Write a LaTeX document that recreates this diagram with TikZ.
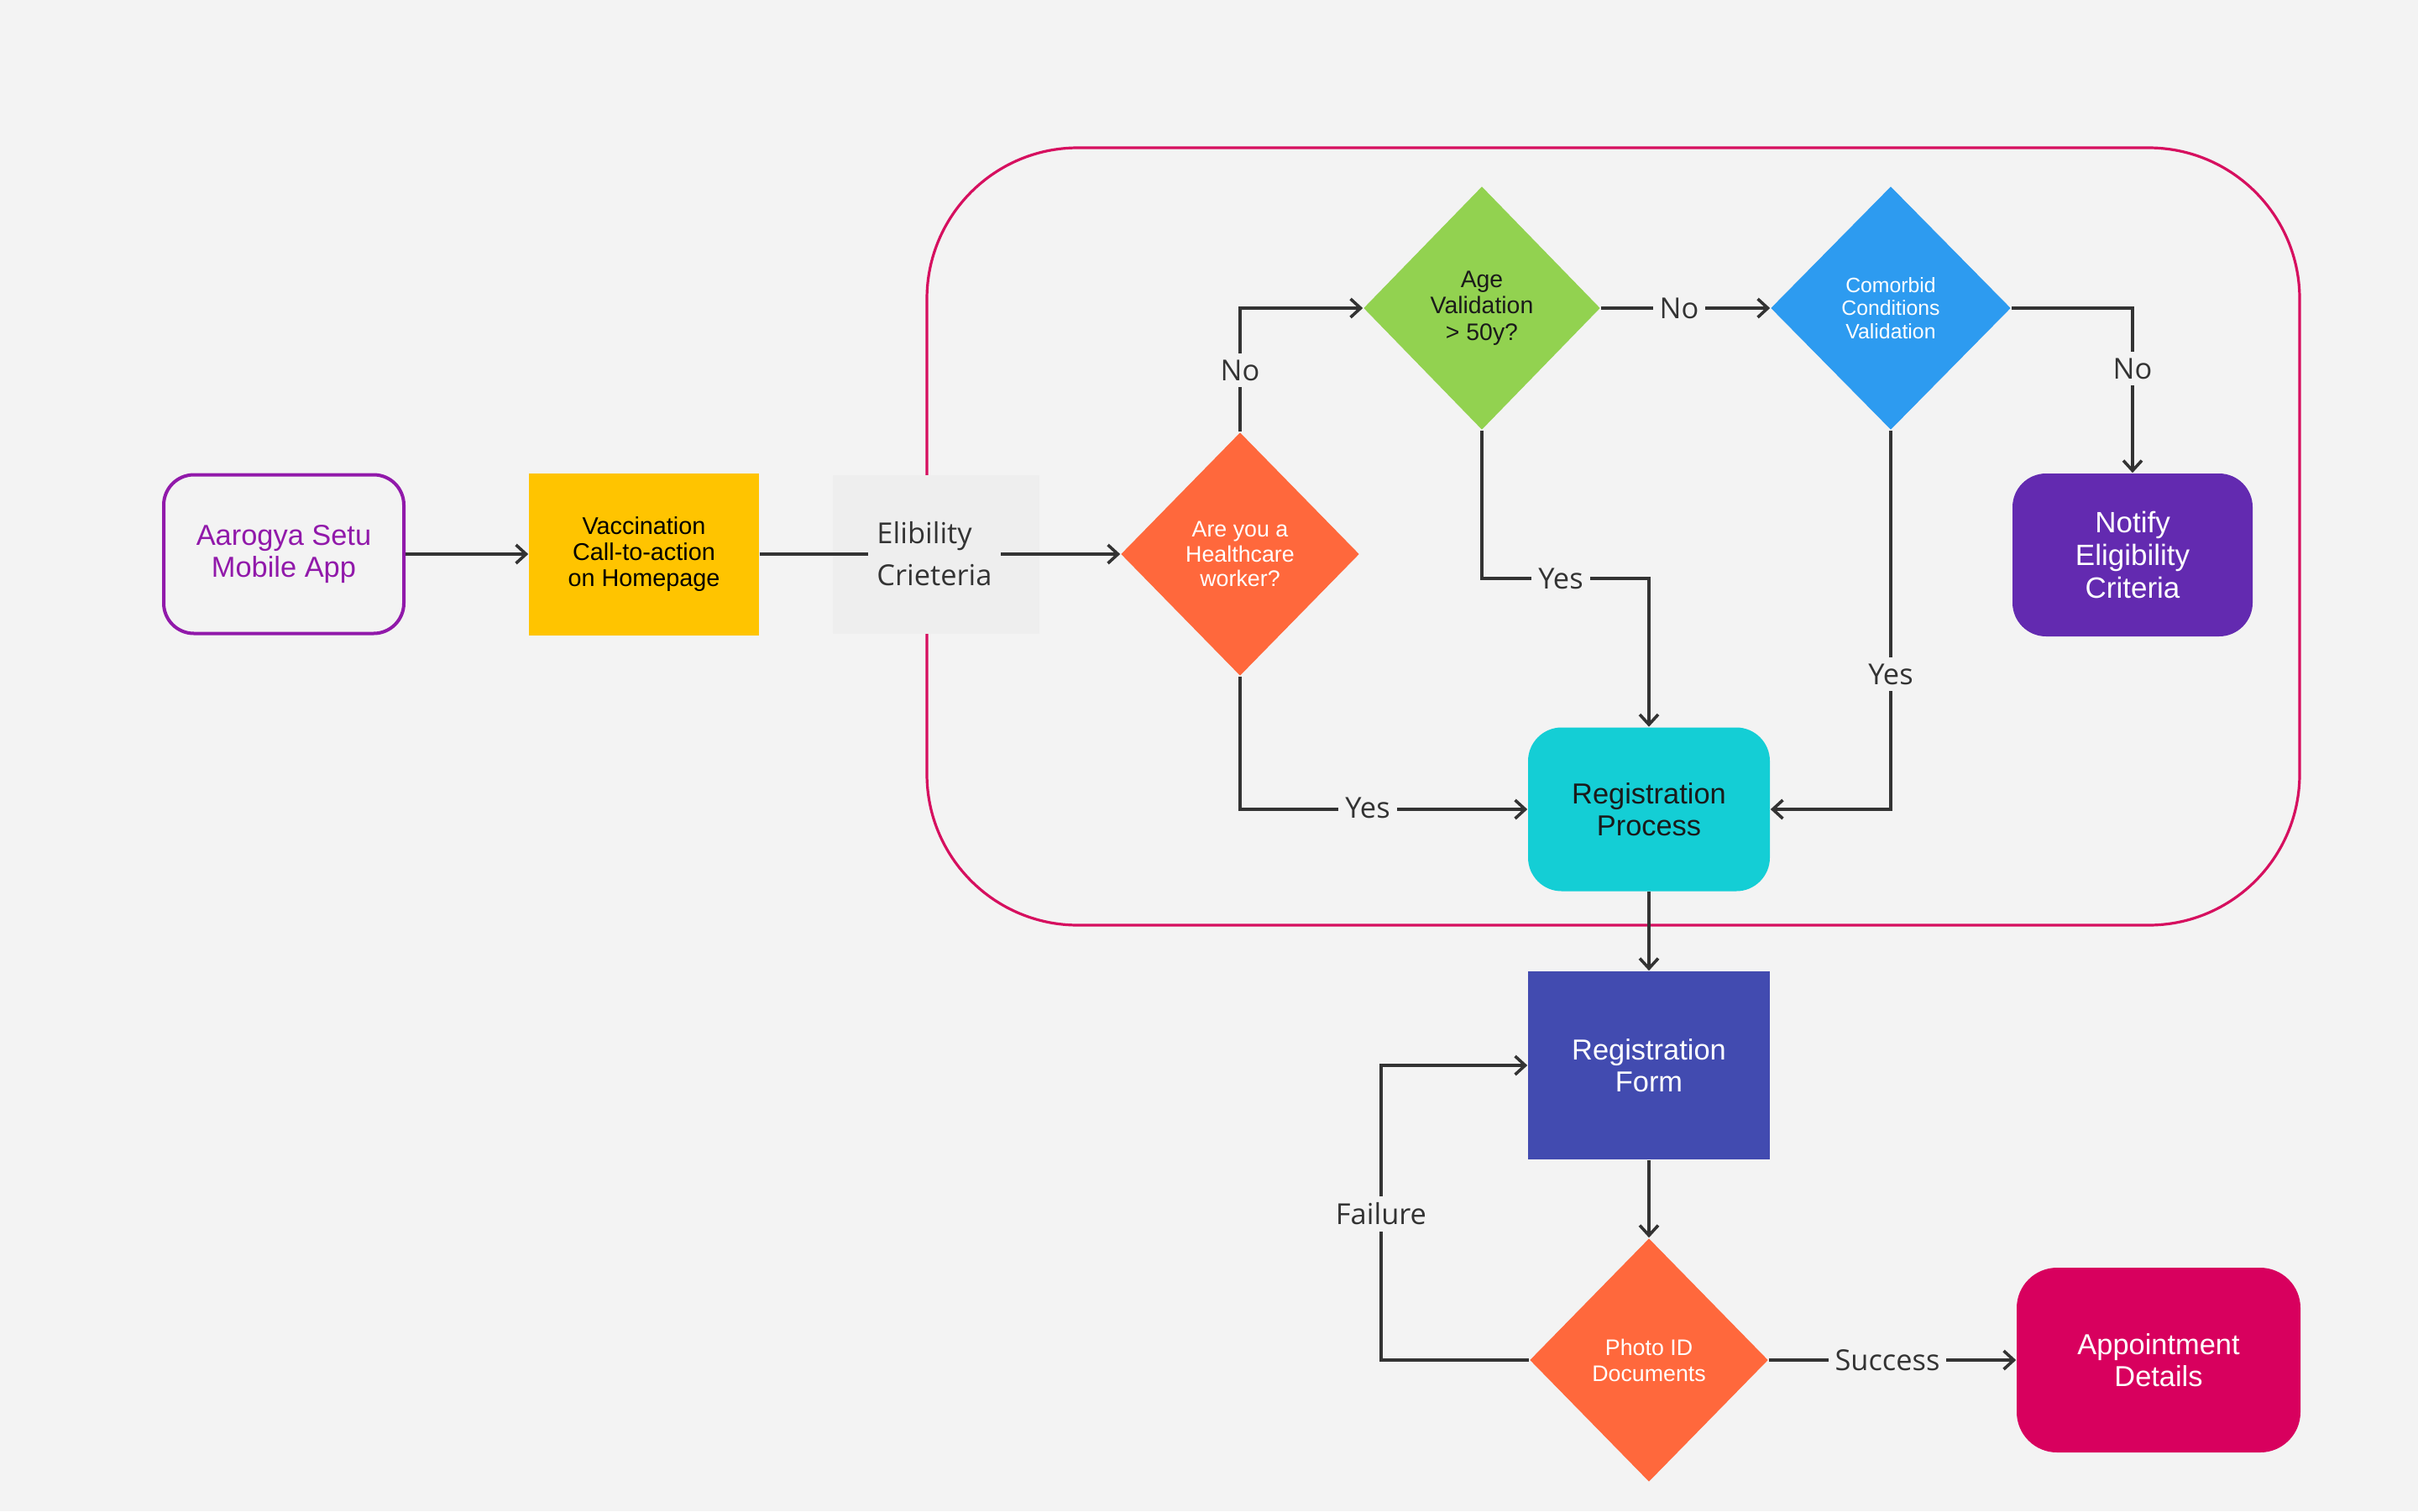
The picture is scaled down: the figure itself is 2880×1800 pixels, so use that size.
\documentclass[tikz,border=0pt]{standalone}
\usepackage{fontspec}
\setmainfont{Liberation Sans}
\newfontfamily\lblfont{Open Sans}
\usetikzlibrary{shapes.geometric,arrows.meta}
\definecolor{bg}{HTML}{F3F3F3}
\definecolor{ink}{HTML}{333333}
\definecolor{dark}{HTML}{1A1A1A}
\definecolor{eligc}{HTML}{EEEEEE}
\definecolor{appc}{HTML}{9119AA}
\definecolor{vacc}{HTML}{FFC400}
\definecolor{orng}{HTML}{FF683C}
\definecolor{grn}{HTML}{92D250}
\definecolor{blu}{HTML}{2D9BF0}
\definecolor{purp}{HTML}{632AB0}
\definecolor{cyan}{HTML}{14CED5}
\definecolor{indg}{HTML}{424BB0}
\definecolor{mag}{HTML}{D8005E}
\definecolor{frame}{HTML}{D60F5F}
\begin{document}
\begin{tikzpicture}[x=0.25pt,y=-0.25pt,
  box/.style={align=center,inner sep=0pt},
  dia/.style={diamond,align=center,inner sep=0pt,minimum width=71pt,minimum height=72.5pt},
  big/.style={font=\fontsize{8.6}{9.65}\selectfont},
  lbl/.style={fill=bg,text=ink,inner sep=2pt,font=\lblfont\fontsize{8.6}{10}\selectfont},
  conn/.style={draw=ink,line width=0.9pt,-{Straight Barb[length=3pt,width=5.5pt]}}]
\fill[bg] (0,0) rectangle (2880,1800);
\useasboundingbox (0,0) rectangle (2880,1800);
% container
\draw[frame,line width=0.8pt,rounded corners=45pt] (1104,176) rectangle (2739,1102);
% nodes
\node[box,big,draw=appc,line width=1pt,fill=bg,text=appc,rounded corners=9pt,minimum width=71.5pt,minimum height=47.25pt] (app) at (338,660) {Aarogya Setu\\Mobile App};
\node[box,fill=vacc,text=black,minimum width=68.5pt,minimum height=48.25pt,font=\fontsize{7.2}{7.8}\selectfont] (vac) at (767,660) {Vaccination\\Call-to-action\\on Homepage};
\node[box,fill=eligc,minimum width=61.5pt,minimum height=47.25pt] (eligbox) at (1115,660) {};
\node[dia,fill=orng,text=white,font=\fontsize{6.7}{7.35}\selectfont] (hc) at (1477,660) {Are you a\\Healthcare\\worker?};
\node[dia,fill=grn,text=dark,minimum width=70.5pt,font=\fontsize{7.1}{7.8}\selectfont] (age) at (1765,367) {Age\\Validation\\{>} 50y?};
\node[dia,fill=blu,text=white,minimum width=71.5pt,font=\fontsize{6.2}{6.9}\selectfont] (com) at (2252,367) {Comorbid\\Conditions\\Validation};
\node[box,fill=purp,text=white,rounded corners=10pt,minimum width=71.5pt,minimum height=48.5pt,font=\fontsize{8.75}{9.65}\selectfont] (notify) at (2540,661) {Notify\\Eligibility\\Criteria};
\node[box,big,fill=cyan,text=dark,rounded corners=10pt,minimum width=72pt,minimum height=48.75pt] (regp) at (1964,964) {Registration\\Process};
\node[box,big,fill=indg,text=white,minimum width=72pt,minimum height=56pt] (regf) at (1964,1269) {Registration\\Form};
\node[dia,fill=orng,text=white,font=\fontsize{6.7}{7.8}\selectfont] (photo) at (1964,1620) {Photo ID\\Documents};
\node[box,big,fill=mag,text=white,rounded corners=12pt,minimum width=84.5pt,minimum height=55pt] (appt) at (2571,1620) {Appointment\\Details};
% connectors
\coordinate (a1) at (1765,689);
\coordinate (f1) at (1645,1620);
\draw[conn] (app.east) -- (vac.west);
\draw[conn] (vac.east) -- (hc.west);
\draw[conn] (hc.north) |- (age.west);
\draw[conn] (hc.south) |- (regp.west);
\draw[conn] (age.east) -- (com.west);
\draw[conn] (age.south) -- (a1) -| (regp.north);
\draw[conn] (com.east) -| (notify.north);
\draw[conn] (com.south) |- (regp.east);
\draw[conn] (regp.south) -- (regf.north);
\draw[conn] (regf.south) -- (photo.north);
\draw[conn] (photo.west) -- (f1) |- (regf.west);
\draw[conn] (photo.east) -- (appt.west);
% labels
\node[fill=eligc,text=ink,align=left,inner xsep=2.5pt,inner ysep=2pt,font=\lblfont\fontsize{8.6}{12.5}\selectfont] (elig) at (1113,660) {Elibility\\Crieteria};
\node[lbl] (l1) at (1477,441) {No};
\node[lbl] (l2) at (1629,962) {Yes};
\node[lbl] (l3) at (2000,367) {No};
\node[lbl] (l4) at (1859,689) {Yes};
\node[lbl] (l5) at (2540,439) {No};
\node[lbl] (l6) at (2252,803) {Yes};
\node[lbl] (l7) at (1645,1446) {Failure};
\node[lbl] (l8) at (2248,1620) {Success};
\end{tikzpicture}
\end{document}
